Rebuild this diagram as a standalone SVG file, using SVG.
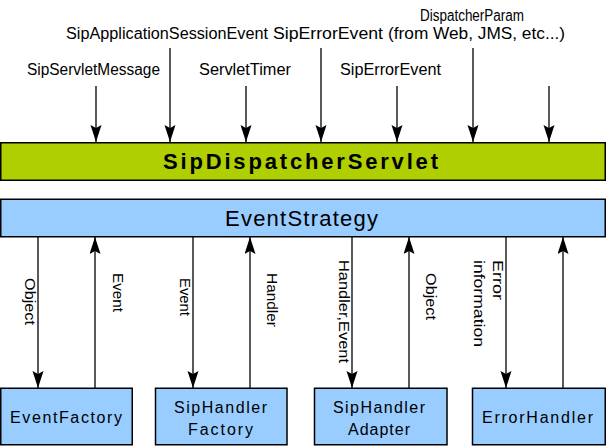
<svg xmlns="http://www.w3.org/2000/svg" width="606" height="446" viewBox="0 0 606 446">
<style>
.t{font-family:"Liberation Sans",Arial,sans-serif;font-size:16px;fill:#000}
.v{font-family:"Liberation Sans",Arial,sans-serif;font-size:15px;fill:#000}
.big{font-family:"Liberation Sans",Arial,sans-serif;font-size:22px;fill:#000}
.box{fill:#99CCFF;stroke:#000;stroke-width:1.5}
.green{fill:#AFCF00;stroke:#000;stroke-width:1.5}
.ln{stroke:#000;stroke-width:1.3;fill:none;marker-end:url(#ah)}
</style>
<defs>
<marker id="ah" markerUnits="userSpaceOnUse" markerWidth="18" markerHeight="12" refX="17" refY="5.5" orient="auto">
<path d="M0,0 L17,5.5 L0,11 L3,5.5 z" fill="#000"/>
</marker>
</defs>
<g id="labels-top">
<text class="t" x="420" y="21" textLength="104" lengthAdjust="spacingAndGlyphs">DispatcherParam</text>
<text class="t" x="66" y="39" textLength="202" lengthAdjust="spacingAndGlyphs">SipApplicationSessionEvent</text>
<text class="t" x="273" y="39" textLength="110" lengthAdjust="spacingAndGlyphs">SipErrorEvent</text>
<text class="t" x="388" y="39" textLength="177" lengthAdjust="spacingAndGlyphs">(from Web, JMS, etc...)</text>
<text class="t" x="27" y="75" textLength="133" lengthAdjust="spacingAndGlyphs">SipServletMessage</text>
<text class="t" x="199" y="75" textLength="92" lengthAdjust="spacingAndGlyphs">ServletTimer</text>
<text class="t" x="340" y="75" textLength="101" lengthAdjust="spacingAndGlyphs">SipErrorEvent</text>
</g>
<g id="connectors">
<line class="ln" x1="96" y1="86" x2="96" y2="142"/>
<line class="ln" x1="170" y1="48" x2="170" y2="142"/>
<line class="ln" x1="246" y1="86" x2="246" y2="142"/>
<line class="ln" x1="321" y1="48" x2="321" y2="142"/>
<line class="ln" x1="397" y1="86" x2="397" y2="142"/>
<line class="ln" x1="473" y1="48" x2="473" y2="142"/>
<line class="ln" x1="549" y1="86" x2="549" y2="142"/>
<line class="ln" x1="38" y1="237" x2="38" y2="388"/>
<line class="ln" x1="95" y1="388" x2="95" y2="237"/>
<line class="ln" x1="193" y1="237" x2="193" y2="388"/>
<line class="ln" x1="250" y1="388" x2="250" y2="237"/>
<line class="ln" x1="352" y1="237" x2="352" y2="388"/>
<line class="ln" x1="409" y1="388" x2="409" y2="237"/>
<line class="ln" x1="506" y1="237" x2="506" y2="388"/>
<line class="ln" x1="563" y1="388" x2="563" y2="237"/>
<text class="v" transform="translate(25,278) rotate(90)" textLength="47" lengthAdjust="spacingAndGlyphs">Object</text>
<text class="v" transform="translate(112.5,273) rotate(90)" textLength="39" lengthAdjust="spacingAndGlyphs">Event</text>
<text class="v" transform="translate(179.5,278) rotate(90)" textLength="38" lengthAdjust="spacingAndGlyphs">Event</text>
<text class="v" transform="translate(266.5,273) rotate(90)" textLength="54" lengthAdjust="spacingAndGlyphs">Handler</text>
<text class="v" transform="translate(339,260) rotate(90)" textLength="103" lengthAdjust="spacingAndGlyphs">Handler,Event</text>
<text class="v" transform="translate(425.5,273) rotate(90)" textLength="47" lengthAdjust="spacingAndGlyphs">Object</text>
<text class="v" transform="translate(492.5,260) rotate(90)" textLength="40" lengthAdjust="spacingAndGlyphs">Error</text>
<text class="v" transform="translate(474,260) rotate(90)" textLength="87" lengthAdjust="spacingAndGlyphs">information</text>
</g>
<g id="SipDispatcherServlet">
<rect class="green" x="0.75" y="142.75" width="604.5" height="37.5"/>
<text class="big" x="163" y="169" font-weight="bold" textLength="275" lengthAdjust="spacing">SipDispatcherServlet</text>
</g>
<g id="EventStrategy">
<rect class="box" x="0.75" y="199.25" width="604.5" height="37.5"/>
<text class="big" x="225" y="226" textLength="153" lengthAdjust="spacing">EventStrategy</text>
</g>
<g id="EventFactory">
<rect class="box" x="0.75" y="388.25" width="131.5" height="56.5"/>
<text class="t" x="10" y="423" textLength="112" lengthAdjust="spacing">EventFactory</text>
</g>
<g id="SipHandlerFactory">
<rect class="box" x="155.5" y="388.25" width="131.5" height="56.5"/>
<text class="t" x="174" y="413" textLength="93" lengthAdjust="spacing">SipHandler</text>
<text class="t" x="188" y="435" textLength="65" lengthAdjust="spacing">Factory</text>
</g>
<g id="SipHandlerAdapter">
<rect class="box" x="314.5" y="388.25" width="132.5" height="56.5"/>
<text class="t" x="333" y="413" textLength="92" lengthAdjust="spacing">SipHandler</text>
<text class="t" x="348" y="435" textLength="62" lengthAdjust="spacing">Adapter</text>
</g>
<g id="ErrorHandler">
<rect class="box" x="472.5" y="388.25" width="132.75" height="56.5"/>
<text class="t" x="482" y="423" textLength="111" lengthAdjust="spacing">ErrorHandler</text>
</g>
</svg>
